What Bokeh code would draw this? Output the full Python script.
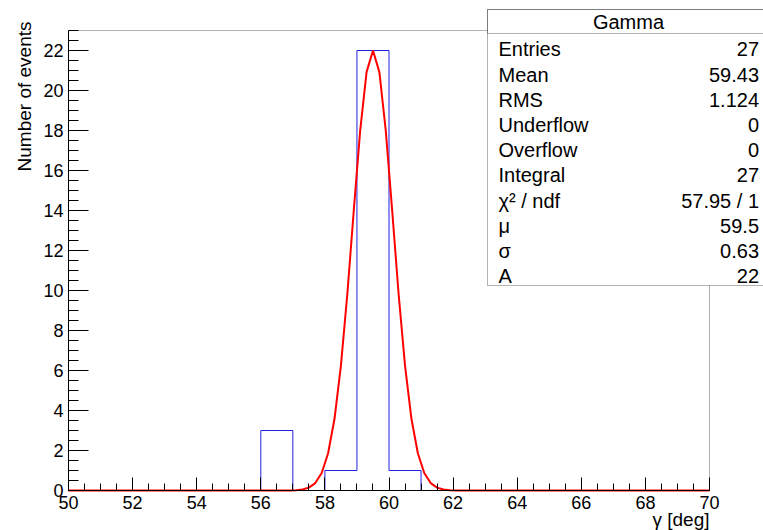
import math
import numpy as np
from bokeh.plotting import figure
from bokeh.models import Range1d, SingleIntervalTicker, Label, BoxAnnotation
from bokeh.embed import file_html
from bokeh.resources import INLINE

# ---------------- data ----------------
bin_low_edges = [50, 51, 52, 53, 54, 55, 56, 57, 58, 59,
                 60, 61, 62, 63, 64, 65, 66, 67, 68, 69]
bin_width = 1
counts = [0, 0, 0, 0, 0, 0, 3, 0, 1, 22,
          1, 0, 0, 0, 0, 0, 0, 0, 0, 0]

fit_mu = 59.5
fit_sigma = 0.63
fit_A = 22.0
fit_npx = 100

stats_title = "Gamma"
stats_names = ["Entries", "Mean", "RMS", "Underflow", "Overflow", "Integral",
               "\u03c7\u00b2 / ndf", "\u03bc", "\u03c3", "A"]
stats_values = ["27", "59.43", "1.124", "0", "0", "27",
                "57.95 / 1", "59.5", "0.63", "22"]

x_title = "\u03b3 [deg]"
y_title = "Number of events"

# ---------------- layout ----------------
W, H = 763, 530
FL, FR, FT, FB = 68, 709, 30, 490          # pad frame in canvas pixels
XMIN, XMAX, YMIN, YMAX = 50, 70, 0, 23.0   # axis limits

xs_per_px = (XMAX - XMIN) / (FR - FL)
ys_per_px = (YMAX - YMIN) / (FB - FT)
x_range = Range1d(XMIN - FL * xs_per_px, XMAX + (W - FR) * xs_per_px)
y_range = Range1d(YMIN - (H - FB) * ys_per_px, YMAX + FT * ys_per_px)

FONT = "Liberation Sans"

p = figure(width=W, height=H, output_backend="svg", toolbar_location=None,
           x_range=x_range, y_range=y_range,
           min_border_left=0, min_border_right=0,
           min_border_top=0, min_border_bottom=0)
p.background_fill_color = "white"
p.border_fill_color = "white"
p.outline_line_color = None
p.xgrid.visible = False
p.ygrid.visible = False

# frame
p.add_layout(BoxAnnotation(left=XMIN, right=XMAX, bottom=YMIN, top=YMAX,
                           fill_alpha=0.0, line_color="black", line_width=1,
                           level="underlay"))

xa, ya = p.xaxis[0], p.yaxis[0]
xa.fixed_location = YMIN
ya.fixed_location = XMIN
xa.bounds = (XMIN, XMAX)
ya.bounds = (YMIN, YMAX)
for ax in (xa, ya):
    ax.ticker = SingleIntervalTicker(interval=2, num_minor_ticks=4)
    ax.axis_line_color = "black"
    ax.major_tick_line_color = "black"
    ax.minor_tick_line_color = "black"
    ax.major_tick_out = 0
    ax.minor_tick_out = 0
    ax.major_label_text_font = FONT
    ax.major_label_text_font_size = "18px"
    ax.major_label_text_color = "black"
    ax.major_label_standoff = 5

xa.major_tick_in = 13
xa.minor_tick_in = 7
ya.major_tick_in = 20
ya.minor_tick_in = 10

# histogram outline
step_x = list(bin_low_edges) + [bin_low_edges[-1] + bin_width]
step_y = list(counts) + [counts[-1]]
p.step(step_x, step_y, mode="after", line_color="#2020e0", line_width=1)

# gaussian fit function, sampled like ROOT (npx points at bin centres)
dx = (XMAX - XMIN) / fit_npx
fx = np.concatenate([[XMIN], XMIN + (np.arange(fit_npx) + 0.5) * dx, [XMAX]])
fy = fit_A * np.exp(-0.5 * ((fx - fit_mu) / fit_sigma) ** 2)
p.line(fx, fy, line_color="#ff0000", line_width=2)

def clabel(x, y, text, align="left", baseline="middle", size="20px", angle=0.0):
    return Label(x=x, y=y, x_units="canvas", y_units="canvas", text=text,
                 angle=angle, text_align=align, text_baseline=baseline,
                 text_font=FONT, text_font_size=size, text_color="black",
                 level="overlay")

# axis titles
p.add_layout(clabel(23.5, 21, y_title, align="right", baseline="middle",
                    size="19px", angle=math.pi / 2))
p.add_layout(clabel(FR, 518.5, x_title, align="right", baseline="middle", size="19px"))

# statistics box
p.add_layout(BoxAnnotation(left=487, right=775, top=9, bottom=285,
                           left_units="canvas", right_units="canvas",
                           top_units="canvas", bottom_units="canvas",
                           fill_color="white", fill_alpha=1.0,
                           line_color="black", line_width=1, level="annotation"))
p.add_layout(BoxAnnotation(left=487, right=775, top=9, bottom=33,
                           left_units="canvas", right_units="canvas",
                           top_units="canvas", bottom_units="canvas",
                           fill_alpha=0.0, line_color="black", line_width=1,
                           level="annotation"))
p.add_layout(clabel(628, 21.7, stats_title, align="center"))
for i, (nm, val) in enumerate(zip(stats_names, stats_values)):
    yy = 48.8 + 25.2 * i
    p.add_layout(clabel(498, yy, nm, align="left"))
    p.add_layout(clabel(758.5, yy, val, align="right"))

open("out.html", "w").write(file_html(p, INLINE))
